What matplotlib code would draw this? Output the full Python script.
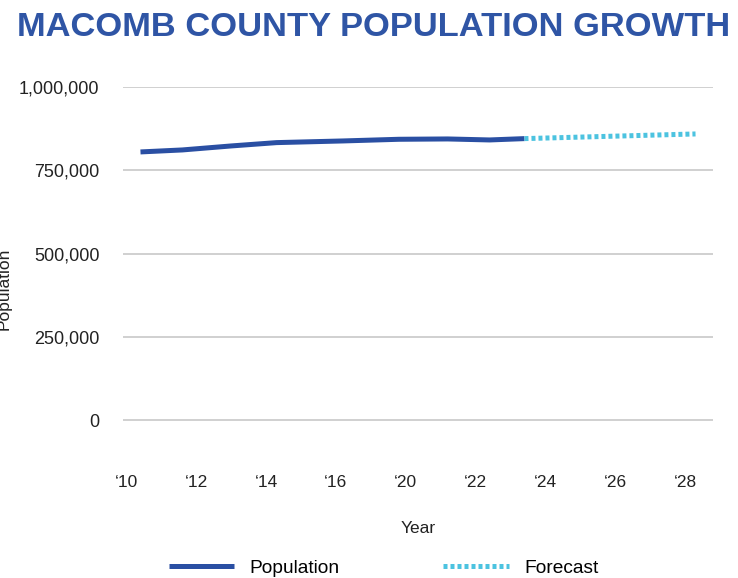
import matplotlib
matplotlib.use('Agg')
import matplotlib.pyplot as plt
from matplotlib.ticker import FuncFormatter

plt.rcParams['font.family'] = ['Liberation Sans', 'DejaVu Sans']

# posições no eixo x (unidades de ano a partir do '10)
pop_x = [0.4, 1.6, 3.0, 4.3, 6.2, 7.8, 9.2, 10.4, 11.4]
pop_y = [805000, 811000, 823000, 833000, 838000, 843000, 844000, 841000, 845000]
fc_x = [11.4, 16.3]
fc_y = [845000, 859000]

tick_pos = [0, 2, 4, 6, 8, 10, 12, 14, 16]
tick_labels = ['\u201810', '\u201812', '\u201814', '\u201816', '\u201820',
               '\u201822', '\u201824', '\u201826', '\u201828']
y_ticks = [0, 250000, 500000, 750000, 1000000]

blue = '#2a4fa3'
cyan = '#4cc3e0'

fig = plt.figure(figsize=(7.38, 5.78), dpi=100)
ax = fig.add_axes([0.1667, 0.192, 0.7994, 0.6575])

ax.plot(pop_x, pop_y, color=blue, lw=3.6, solid_capstyle='butt', label='Population', zorder=3)
ax.plot(fc_x, fc_y, color=cyan, lw=3.6, linestyle=(0, (0.8, 0.6)), label='Forecast', zorder=3)

ax.set_xlim(-0.1, 16.8)
ax.set_ylim(-141000, 1000000)
ax.set_xticks(tick_pos)
ax.set_xticklabels(tick_labels)
ax.set_yticks(y_ticks)
ax.yaxis.set_major_formatter(FuncFormatter(lambda v, p: '{:,.0f}'.format(v)))
ax.grid(axis='y', color='#c4c4c4', lw=1.1)
ax.set_axisbelow(True)
for s in ax.spines.values():
    s.set_visible(False)
ax.tick_params(axis='y', length=0, pad=17, labelsize=13, colors='#222222')
ax.tick_params(axis='x', length=0, pad=6, labelsize=12.5, colors='#222222')

ax.set_xlabel('Year', fontsize=12.5, color='#222222', labelpad=22)
fig.text(0.005, 0.5, 'Population', rotation=90, fontsize=12.5, color='#222222',
         ha='center', va='center')

fig.text(0.506, 0.952, 'MACOMB COUNTY POPULATION GROWTH', fontsize=24.8, fontweight='bold',
         color='#2f55a5', ha='center', va='center')

fig.legend(loc='center', bbox_to_anchor=(0.52, 0.017), ncol=2, frameon=False,
           fontsize=13.8, handlelength=3.4, handletextpad=0.83, columnspacing=5.4)

fig.savefig('out.png', dpi=100)
